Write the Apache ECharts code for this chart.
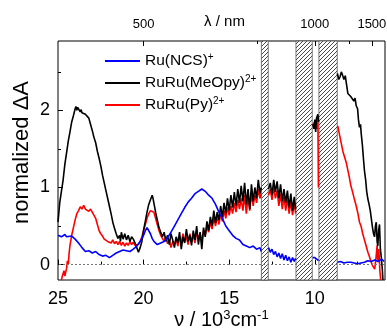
<!DOCTYPE html>
<html>
<head>
<meta charset="utf-8">
<script src="https://cdn.jsdelivr.net/npm/echarts@6/dist/echarts.min.js"></script>
<style>
  html, body { margin: 0; padding: 0; background: #fff; }
  #chart { width: 387px; height: 328px; }
</style>
</head>
<body>
<div id="chart"></div>
<script>
// wavenumber (10^3 cm-1) vs normalized dA, null = gap behind a hatched band
const ncsData = [
  [25.0, 0.38], [24.8, 0.36], [24.6, 0.39], [24.5, 0.36], [24.4, 0.38], [24.2, 0.37],
  [24.0, 0.33], [23.8, 0.28], [23.6, 0.22], [23.4, 0.17], [23.2, 0.18], [23.0, 0.15],
  [22.8, 0.17], [22.6, 0.13], [22.4, 0.11], [22.2, 0.12], [22.0, 0.09], [21.8, 0.12],
  [21.6, 0.15], [21.4, 0.17], [21.2, 0.19], [21.0, 0.18], [20.8, 0.17], [20.6, 0.2],
  [20.4, 0.24], [20.2, 0.3], [20.0, 0.38], [19.9, 0.44], [19.8, 0.48], [19.7, 0.46],
  [19.6, 0.4], [19.5, 0.34], [19.4, 0.3], [19.2, 0.26], [19.0, 0.28], [18.8, 0.3],
  [18.6, 0.35], [18.4, 0.42], [18.2, 0.5], [18.0, 0.58], [17.8, 0.66], [17.6, 0.74],
  [17.4, 0.81], [17.2, 0.86], [17.0, 0.92], [16.8, 0.95], [16.6, 0.98], [16.5, 0.97],
  [16.4, 0.95], [16.2, 0.9], [16.0, 0.86], [15.8, 0.78], [15.6, 0.68], [15.4, 0.6],
  [15.2, 0.5], [15.0, 0.44], [14.8, 0.38], [14.6, 0.34], [14.4, 0.32], [14.2, 0.26],
  [14.0, 0.24], [13.8, 0.22], [13.6, 0.24], [13.4, 0.2], [13.2, 0.22], [13.13, 0.17],
  [12.9, null],
  [12.7, 0.22], [12.6, 0.16], [12.5, 0.2], [12.4, 0.13], [12.3, 0.17], [12.2, 0.1],
  [12.1, 0.15], [12.0, 0.08], [11.9, 0.14], [11.8, 0.06], [11.7, 0.12], [11.6, 0.05],
  [11.5, 0.1], [11.4, 0.03], [11.3, 0.09], [11.2, 0.04], [11.12, 0.08],
  [10.6, null],
  [10.12, 0.09], [10.0, 0.09], [9.9, 0.07], [9.78, 0.05],
  [9.2, null],
  [8.68, 0.03], [8.5, 0.04], [8.3, 0.02], [8.1, 0.03], [7.9, 0.03], [7.7, 0.02],
  [7.5, 0.01], [7.3, 0.02], [7.1, 0.03], [6.9, 0.05], [6.7, 0.04], [6.5, 0.06],
  [6.3, 0.04], [6.1, 0.07], [5.95, 0.04]
]

const meopyData = [
  [25.0, 0.55], [24.9, 0.8], [24.8, 0.95], [24.7, 1.1], [24.6, 1.3], [24.5, 1.45],
  [24.4, 1.6], [24.3, 1.72], [24.2, 1.85], [24.1, 1.93], [24.0, 2.02], [23.95, 2.05],
  [23.9, 2.0], [23.85, 2.04], [23.8, 2.03], [23.7, 1.98], [23.65, 2.01], [23.6, 1.97],
  [23.5, 1.99], [23.4, 1.95], [23.3, 1.96], [23.2, 1.9], [23.1, 1.82], [23.0, 1.74],
  [22.9, 1.65], [22.8, 1.58], [22.7, 1.47], [22.6, 1.38], [22.5, 1.28], [22.4, 1.16],
  [22.3, 1.06], [22.2, 0.96], [22.1, 0.86], [22.0, 0.76], [21.9, 0.66], [21.8, 0.55],
  [21.7, 0.47], [21.6, 0.4], [21.5, 0.34], [21.4, 0.38], [21.35, 0.3], [21.3, 0.42],
  [21.2, 0.33], [21.1, 0.4], [21.0, 0.32], [20.9, 0.38], [20.8, 0.3], [20.7, 0.36],
  [20.6, 0.33], [20.5, 0.28], [20.4, 0.22], [20.3, 0.16], [20.2, 0.22], [20.1, 0.3],
  [20.0, 0.45], [19.9, 0.56], [19.8, 0.68], [19.7, 0.78], [19.6, 0.84], [19.5, 0.9],
  [19.45, 0.86], [19.4, 0.8], [19.3, 0.68], [19.2, 0.58], [19.1, 0.48], [19.0, 0.42],
  [18.9, 0.36], [18.8, 0.42], [18.7, 0.3], [18.6, 0.38], [18.5, 0.26], [18.4, 0.4],
  [18.3, 0.32], [18.2, 0.22], [18.1, 0.36], [18.0, 0.28], [17.9, 0.42], [17.8, 0.2],
  [17.7, 0.36], [17.6, 0.28], [17.5, 0.46], [17.4, 0.3], [17.3, 0.38], [17.2, 0.25],
  [17.1, 0.44], [17.0, 0.32], [16.9, 0.5], [16.8, 0.26], [16.7, 0.42], [16.6, 0.2],
  [16.5, 0.48], [16.4, 0.36], [16.3, 0.56], [16.2, 0.44], [16.1, 0.62], [16.0, 0.5],
  [15.9, 0.7], [15.8, 0.54], [15.7, 0.68], [15.6, 0.58], [15.5, 0.76], [15.4, 0.62],
  [15.3, 0.8], [15.2, 0.66], [15.1, 0.86], [15.0, 0.7], [14.9, 0.9], [14.8, 0.74],
  [14.7, 0.94], [14.6, 0.76], [14.5, 0.98], [14.4, 0.8], [14.3, 1.02], [14.2, 0.82],
  [14.1, 1.06], [14.0, 0.78], [13.9, 0.98], [13.8, 0.72], [13.7, 1.04], [13.6, 0.82],
  [13.5, 1.0], [13.4, 0.86], [13.3, 1.1], [13.2, 0.92], [13.13, 1.0],
  [12.9, null],
  [12.7, 0.98], [12.6, 1.06], [12.5, 0.9], [12.4, 1.1], [12.3, 0.94], [12.2, 1.08],
  [12.1, 0.86], [12.0, 1.04], [11.9, 0.82], [11.8, 0.98], [11.7, 0.8], [11.6, 0.96],
  [11.5, 0.74], [11.4, 0.92], [11.3, 0.7], [11.2, 0.88], [11.12, 0.72],
  [10.6, null],
  [10.12, 1.82], [10.05, 1.76], [10.0, 1.88], [9.95, 1.72], [9.9, 1.9], [9.82, 1.95],
  [9.78, 1.85],
  [9.2, null],
  [8.68, 2.48], [8.6, 2.4], [8.52, 2.44], [8.45, 2.5], [8.38, 2.46], [8.3, 2.4],
  [8.22, 2.45], [8.15, 2.34], [8.07, 2.22], [7.97, 2.24], [7.9, 2.18], [7.8, 2.2],
  [7.72, 2.12], [7.65, 2.16], [7.58, 2.06], [7.5, 2.02], [7.45, 1.88], [7.39, 1.78],
  [7.33, 1.82], [7.29, 1.7], [7.22, 1.55], [7.15, 1.35], [7.1, 1.22], [7.03, 1.1],
  [6.97, 0.95], [6.9, 0.85], [6.83, 0.78], [6.76, 0.7], [6.7, 0.6], [6.63, 0.48],
  [6.57, 0.4], [6.51, 0.36], [6.46, 0.5], [6.41, 0.55], [6.36, 0.3], [6.32, 0.24],
  [6.27, 0.45], [6.22, 0.52], [6.17, 0.2], [6.12, 0.1], [6.06, -0.05], [6.02, -0.2]
]

const pyData = [
  [24.8, -0.2], [24.75, -0.15], [24.7, -0.17], [24.65, -0.08], [24.6, -0.15], [24.5, -0.05],
  [24.45, 0.05], [24.4, 0.0], [24.35, 0.15], [24.3, 0.25], [24.2, 0.38], [24.1, 0.48],
  [24.0, 0.58], [23.9, 0.66], [23.8, 0.7], [23.7, 0.75], [23.6, 0.72], [23.5, 0.77],
  [23.4, 0.72], [23.3, 0.74], [23.2, 0.69], [23.1, 0.72], [23.0, 0.68], [22.9, 0.66],
  [22.8, 0.6], [22.7, 0.52], [22.6, 0.44], [22.5, 0.4], [22.4, 0.37], [22.3, 0.33],
  [22.2, 0.34], [22.1, 0.3], [22.0, 0.31], [21.9, 0.28], [21.8, 0.32], [21.7, 0.27],
  [21.6, 0.3], [21.5, 0.26], [21.4, 0.3], [21.3, 0.25], [21.2, 0.29], [21.1, 0.24],
  [21.0, 0.28], [20.9, 0.25], [20.8, 0.3], [20.7, 0.26], [20.6, 0.29], [20.5, 0.25],
  [20.4, 0.27], [20.3, 0.26], [20.2, 0.3], [20.1, 0.36], [20.0, 0.44], [19.9, 0.52],
  [19.8, 0.6], [19.7, 0.66], [19.6, 0.7], [19.5, 0.72], [19.4, 0.68], [19.3, 0.6],
  [19.2, 0.52], [19.1, 0.44], [19.0, 0.38], [18.9, 0.34], [18.8, 0.3], [18.7, 0.36],
  [18.6, 0.27], [18.5, 0.32], [18.4, 0.22], [18.3, 0.3], [18.2, 0.26], [18.1, 0.33],
  [18.0, 0.24], [17.9, 0.36], [17.8, 0.28], [17.7, 0.4], [17.6, 0.3], [17.5, 0.36],
  [17.4, 0.26], [17.3, 0.4], [17.2, 0.3], [17.1, 0.38], [17.0, 0.28], [16.9, 0.42],
  [16.8, 0.34], [16.7, 0.4], [16.6, 0.3], [16.5, 0.44], [16.4, 0.38], [16.3, 0.5],
  [16.2, 0.42], [16.1, 0.55], [16.0, 0.46], [15.9, 0.6], [15.8, 0.5], [15.7, 0.62],
  [15.6, 0.52], [15.5, 0.66], [15.4, 0.56], [15.3, 0.7], [15.2, 0.6], [15.1, 0.74],
  [15.0, 0.64], [14.9, 0.76], [14.8, 0.66], [14.7, 0.8], [14.6, 0.68], [14.5, 0.84],
  [14.4, 0.72], [14.3, 0.86], [14.2, 0.7], [14.1, 0.9], [14.0, 0.66], [13.9, 0.88],
  [13.8, 0.7], [13.7, 0.92], [13.6, 0.76], [13.5, 0.9], [13.4, 0.8], [13.3, 0.98],
  [13.2, 0.86], [13.13, 0.92],
  [12.9, null],
  [12.7, 0.9], [12.6, 0.98], [12.5, 0.84], [12.4, 1.0], [12.3, 0.86], [12.2, 0.96],
  [12.1, 0.76], [12.0, 0.92], [11.9, 0.72], [11.8, 0.88], [11.7, 0.7], [11.6, 0.86],
  [11.5, 0.66], [11.4, 0.82], [11.3, 0.64], [11.2, 0.8], [11.12, 0.66],
  [10.6, null],
  [10.12, 1.8], [10.05, 1.84], [10.0, 1.78], [9.95, 1.86], [9.88, 1.76], [9.82, 1.9],
  [9.79, 1.0],
  [9.2, null],
  [8.66, 1.8], [8.5, 1.62], [8.35, 1.46], [8.16, 1.32], [8.0, 1.15], [7.9, 1.03],
  [7.78, 0.93], [7.68, 0.84], [7.58, 0.76], [7.48, 0.66], [7.39, 0.55], [7.3, 0.5],
  [7.2, 0.4], [7.1, 0.32], [7.0, 0.24], [6.9, 0.16], [6.82, 0.11], [6.72, 0.04],
  [6.61, -0.02], [6.5, -0.06], [6.42, 0.1], [6.36, 0.25], [6.32, 0.05], [6.26, 0.2],
  [6.2, -0.08], [6.15, -0.2]
]

// blocked spectral windows (10^3 cm-1)
const hatchBands = [[13.12, 12.72], [11.1, 10.15], [9.76, 8.69]]

const nuTicks = [25, 20, 15, 10]
const nuMinor = [22.5, 17.5, 12.5, 7.5]
const lambdaTicks = [500, 1000, 1500]
const lambdaMinor = [750, 1250]
const yTicks = [0, 1, 2]
const yMinor = [0.5, 1.5, 2.5]

const seriesNames = ['Ru(NCS)+', 'RuRu(MeOpy)2+', 'RuRu(Py)2+']
const legendRich = {
  'Ru(NCS)+': '{a|Ru(NCS)}{s|+}',
  'RuRu(MeOpy)2+': '{a|RuRu(MeOpy)}{s|2+}',
  'RuRu(Py)2+': '{a|RuRu(Py)}{s|2+}'
}

const FONT = 'Liberation Sans, Arial, sans-serif'

function hatchPattern() {
  const c = document.createElement('canvas')
  c.width = 4
  c.height = 4
  const ctx = c.getContext('2d')
  ctx.fillStyle = '#fff'
  ctx.fillRect(0, 0, 4, 4)
  ctx.strokeStyle = '#333'
  ctx.lineWidth = 0.9
  ctx.beginPath()
  ctx.moveTo(0, 4); ctx.lineTo(4, 0)
  ctx.moveTo(-1, 1); ctx.lineTo(1, -1)
  ctx.moveTo(3, 5); ctx.lineTo(5, 3)
  ctx.stroke()
  return c
}

const chart = echarts.init(document.getElementById('chart'))

const xBase = { type: 'value', min: 5.9, max: 25, inverse: true, gridIndex: 0,
  nameMoveOverlap: false, splitLine: { show: false }, axisLine: { show: false } }
const yBase = { type: 'value', min: -0.2, max: 2.9, gridIndex: 0,
  nameMoveOverlap: false, splitLine: { show: false }, axisLine: { show: false } }

chart.setOption({
  animation: false,
  textStyle: { fontFamily: FONT },
  grid: { left: 58, right: 2, top: 41, bottom: 48, show: true, outerBoundsMode: 'none',
    containLabel: false, borderColor: '#000', borderWidth: 1, backgroundColor: 'transparent' },
  legend: {
    orient: 'vertical', left: 105, top: 52, padding: 0,
    data: seriesNames,
    icon: 'rect', itemWidth: 35, itemHeight: 2, itemGap: 5,
    formatter: name => legendRich[name],
    textStyle: {
      fontFamily: FONT, color: '#000',
      rich: {
        a: { fontSize: 15.5, lineHeight: 18, fontFamily: FONT, color: '#000' },
        s: { fontSize: 10, lineHeight: 10, verticalAlign: 'top', fontFamily: FONT, color: '#000' }
      }
    }
  },
  xAxis: [
    Object.assign({}, xBase, {
      position: 'bottom',
      name: '{a|ν / 10}{s|3}{a|cm}{s|-1}',
      nameLocation: 'middle', nameGap: 29,
      nameTextStyle: {
        rich: {
          a: { fontSize: 20, lineHeight: 22, fontFamily: FONT, color: '#000' },
          s: { fontSize: 13, lineHeight: 13, verticalAlign: 'top', fontFamily: FONT, color: '#000' }
        }
      },
      axisTick: { inside: true, length: 5, customValues: nuTicks, lineStyle: { color: '#000' } },
      axisLabel: { customValues: nuTicks, fontSize: 18, color: '#000', margin: 10 }
    }),
    Object.assign({}, xBase, {
      position: 'bottom',
      axisTick: { inside: true, length: 3, customValues: nuMinor, lineStyle: { color: '#000' } },
      axisLabel: { show: false }
    }),
    Object.assign({}, xBase, {
      position: 'top',
      name: 'λ / nm', nameLocation: 'middle', nameGap: 12,
      nameTextStyle: { fontSize: 15, color: '#000', padding: [0, 0, 0, 6] },
      axisTick: { inside: true, length: 5, customValues: lambdaTicks.map(l => 10000 / l),
        lineStyle: { color: '#000' } },
      axisLabel: { customValues: lambdaTicks.map(l => 10000 / l), fontSize: 13, color: '#000',
        margin: 10, formatter: v => String(Math.round(10000 / v)) }
    }),
    Object.assign({}, xBase, {
      position: 'top',
      axisTick: { inside: true, length: 3, customValues: lambdaMinor.map(l => 10000 / l),
        lineStyle: { color: '#000' } },
      axisLabel: { show: false }
    })
  ],
  yAxis: [
    Object.assign({}, yBase, {
      position: 'left',
      name: 'normalized ΔA', nameLocation: 'middle', nameGap: 25,
      nameTextStyle: { fontSize: 22, color: '#000', padding: [0, 0, 0, 16] },
      axisTick: { inside: true, length: 5, customValues: yTicks, lineStyle: { color: '#000' } },
      axisLabel: { customValues: yTicks, fontSize: 18, color: '#000', margin: 8 }
    }),
    Object.assign({}, yBase, {
      position: 'left',
      axisTick: { inside: true, length: 3, customValues: yMinor, lineStyle: { color: '#000' } },
      axisLabel: { show: false }
    })
  ],
  series: [
    {
      name: seriesNames[2], type: 'line', data: pyData, showSymbol: false, z: 2,
      lineStyle: { color: '#ff0000', width: 1.6 }, itemStyle: { color: '#ff0000' },
      markLine: {
        silent: true, symbol: 'none', label: { show: false },
        lineStyle: { color: '#777', type: [2, 2], width: 1 },
        data: [{ yAxis: 0 }]
      },
      markArea: {
        silent: true,
        itemStyle: { color: { image: hatchPattern(), repeat: 'repeat' },
          borderColor: '#555', borderWidth: 0.8 },
        data: hatchBands.map(b => [{ xAxis: b[0] }, { xAxis: b[1] }])
      }
    },
    {
      name: seriesNames[1], type: 'line', data: meopyData, showSymbol: false, z: 3,
      lineStyle: { color: '#000', width: 1.6 }, itemStyle: { color: '#000' }
    },
    {
      name: seriesNames[0], type: 'line', data: ncsData, showSymbol: false, z: 4,
      lineStyle: { color: '#0000ff', width: 1.6 }, itemStyle: { color: '#0000ff' }
    }
  ]
})
</script>
</body>
</html>
